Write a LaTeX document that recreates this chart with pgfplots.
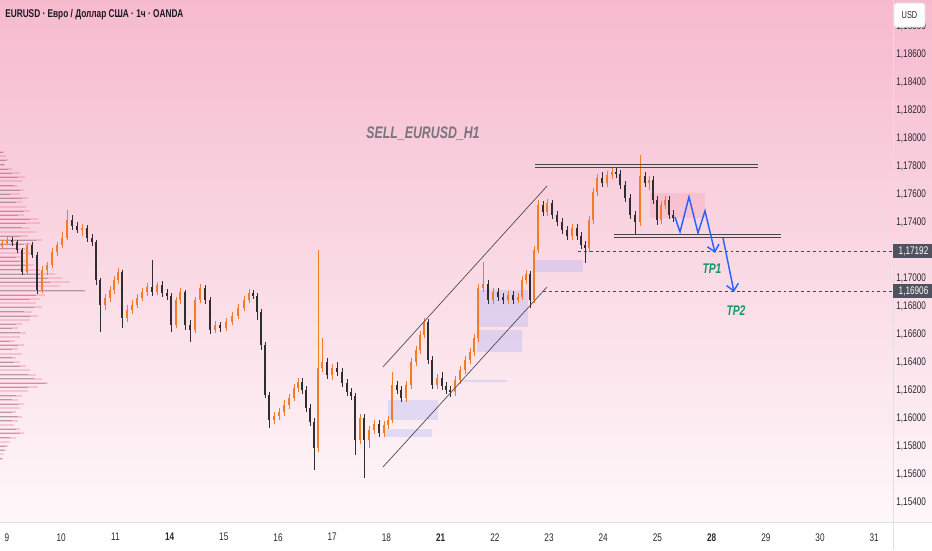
\documentclass[border=0pt]{standalone}
\usepackage{pgfplots}
\pgfplotsset{compat=1.18}
\usepackage{pgfplotstable}
\usetikzlibrary{arrows.meta}
\usepackage{fontspec}
\setmainfont{Liberation Sans}
\newfontfamily\nsf[FakeStretch=0.74]{Liberation Sans}
\definecolor{upc}{RGB}{242,124,38}
\definecolor{dnc}{RGB}{45,45,50}
\definecolor{tpblue}{RGB}{41,98,255}
\definecolor{tpgreen}{RGB}{22,150,108}
\definecolor{lbl}{RGB}{40,40,48}
\definecolor{pbox}{RGB}{80,83,94}
\definecolor{lav}{RGB}{120,140,255}
\definecolor{bgtop}{RGB}{246,186,206}
\definecolor{bgmid}{RGB}{249,213,224}
\definecolor{bgbot}{RGB}{254,248,250}
\definecolor{sep}{RGB}{226,222,225}
\definecolor{lnc}{RGB}{70,70,76}
\definecolor{vpink}{RGB}{238,120,155}
\definecolor{vgray}{RGB}{90,90,95}
\definecolor{pzone}{RGB}{235,80,110}
\definecolor{ttl}{RGB}{122,116,122}
\definecolor{hdr}{RGB}{25,25,35}
\definecolor{usdb}{RGB}{225,222,226}

\pgfplotstableread{
x o h l c
2 1.17229 1.17272 1.17207 1.17250
7 1.17250 1.17300 1.17236 1.17272
12 1.17272 1.17293 1.17229 1.17257
17 1.17257 1.17272 1.17179 1.17200
22 1.17200 1.17215 1.17022 1.17043
27 1.17043 1.17250 1.17029 1.17236
32 1.17236 1.17257 1.17143 1.17165
37 1.17165 1.17186 1.16886 1.16915
42 1.16915 1.17086 1.16893 1.17057
47 1.17057 1.17115 1.17022 1.17093
52 1.17093 1.17215 1.17072 1.17186
57 1.17186 1.17257 1.17157 1.17236
62 1.17236 1.17329 1.17215 1.17286
67 1.17286 1.17486 1.17272 1.17415
72 1.17415 1.17450 1.17343 1.17372
77 1.17372 1.17400 1.17322 1.17343
82 1.17343 1.17386 1.17300 1.17357
87 1.17357 1.17379 1.17257 1.17286
92 1.17286 1.17315 1.17229 1.17257
96 1.17257 1.17272 1.16950 1.16986
100 1.16986 1.17000 1.16615 1.16807
105 1.16807 1.16886 1.16772 1.16857
110 1.16857 1.16943 1.16829 1.16915
114 1.16915 1.17015 1.16886 1.16986
118 1.16986 1.17072 1.16957 1.17043
122 1.17043 1.17057 1.16643 1.16715
127 1.16715 1.16807 1.16686 1.16772
132 1.16772 1.16843 1.16743 1.16807
137 1.16807 1.16886 1.16786 1.16857
142 1.16857 1.16929 1.16836 1.16900
147 1.16900 1.16965 1.16872 1.16936
152 1.16936 1.17129 1.16872 1.16900
157 1.16900 1.16972 1.16879 1.16950
162 1.16950 1.16979 1.16865 1.16893
167 1.16893 1.16922 1.16843 1.16872
171 1.16872 1.16893 1.16615 1.16665
176 1.16665 1.16865 1.16643 1.16843
180 1.16843 1.16929 1.16815 1.16900
185 1.16900 1.16915 1.16629 1.16665
190 1.16665 1.16700 1.16543 1.16629
195 1.16629 1.16865 1.16607 1.16843
200 1.16843 1.16957 1.16822 1.16929
205 1.16929 1.16950 1.16815 1.16843
210 1.16843 1.16865 1.16600 1.16629
215 1.16629 1.16693 1.16607 1.16665
220 1.16665 1.16686 1.16615 1.16643
226 1.16643 1.16715 1.16622 1.16686
232 1.16686 1.16757 1.16665 1.16729
238 1.16729 1.16815 1.16707 1.16786
244 1.16786 1.16872 1.16765 1.16843
249 1.16843 1.16922 1.16822 1.16893
253 1.16893 1.16915 1.16850 1.16872
257 1.16872 1.16893 1.16700 1.16757
261 1.16757 1.16779 1.16486 1.16522
265 1.16522 1.16543 1.16143 1.16165
269 1.16165 1.16186 1.15929 1.15986
274 1.15986 1.16043 1.15957 1.16015
279 1.16015 1.16072 1.15986 1.16043
284 1.16043 1.16129 1.16015 1.16093
289 1.16093 1.16172 1.16065 1.16143
294 1.16143 1.16243 1.16122 1.16215
298 1.16215 1.16286 1.16186 1.16257
302 1.16257 1.16286 1.16172 1.16200
306 1.16200 1.16229 1.16043 1.16072
310 1.16072 1.16100 1.15943 1.15972
314 1.15972 1.16000 1.15629 1.15786
318 1.15786 1.17200 1.15757 1.16357
322 1.16357 1.16572 1.16329 1.16400
327 1.16400 1.16429 1.16279 1.16307
332 1.16307 1.16386 1.16272 1.16357
337 1.16357 1.16400 1.16300 1.16329
342 1.16329 1.16357 1.16222 1.16250
347 1.16250 1.16279 1.16157 1.16186
351 1.16186 1.16215 1.16129 1.16157
355 1.16157 1.16179 1.15736 1.15843
360 1.15843 1.16029 1.15815 1.16000
364 1.16000 1.16029 1.15572 1.15843
369 1.15843 1.15943 1.15786 1.15915
374 1.15915 1.15986 1.15886 1.15957
379 1.15957 1.15986 1.15865 1.15893
384 1.15893 1.15979 1.15865 1.15950
388 1.15950 1.16015 1.15922 1.15986
392 1.15986 1.16329 1.15965 1.16236
397 1.16236 1.16265 1.16172 1.16200
401 1.16200 1.16229 1.16115 1.16143
406 1.16143 1.16265 1.16115 1.16236
411 1.16236 1.16429 1.16207 1.16400
416 1.16400 1.16515 1.16372 1.16486
420 1.16486 1.16622 1.16457 1.16593
424 1.16593 1.16715 1.16572 1.16686
428 1.16686 1.16707 1.16386 1.16415
432 1.16415 1.16443 1.16207 1.16236
437 1.16236 1.16315 1.16207 1.16286
442 1.16286 1.16329 1.16200 1.16229
446 1.16229 1.16257 1.16172 1.16200
450 1.16200 1.16229 1.16150 1.16186
455 1.16186 1.16300 1.16157 1.16272
460 1.16272 1.16372 1.16243 1.16343
465 1.16343 1.16443 1.16315 1.16415
470 1.16415 1.16500 1.16386 1.16472
474 1.16472 1.16600 1.16443 1.16572
478 1.16572 1.16957 1.16543 1.16929
483 1.16929 1.17115 1.16900 1.16957
488 1.16957 1.16986 1.16815 1.16843
493 1.16843 1.16929 1.16815 1.16900
498 1.16900 1.16929 1.16836 1.16865
503 1.16865 1.16893 1.16815 1.16843
508 1.16843 1.16907 1.16815 1.16879
513 1.16879 1.16907 1.16815 1.16843
518 1.16843 1.16893 1.16822 1.16865
522 1.16865 1.17015 1.16843 1.16986
526 1.16986 1.17057 1.16957 1.17029
530 1.17029 1.17050 1.16786 1.16843
534 1.16843 1.17229 1.16822 1.17200
538 1.17200 1.17557 1.17179 1.17522
543 1.17522 1.17550 1.17443 1.17472
547 1.17472 1.17565 1.17443 1.17536
552 1.17536 1.17557 1.17422 1.17450
557 1.17450 1.17479 1.17372 1.17400
562 1.17400 1.17429 1.17315 1.17343
567 1.17343 1.17372 1.17272 1.17300
572 1.17300 1.17386 1.17272 1.17357
577 1.17357 1.17386 1.17272 1.17300
581 1.17300 1.17329 1.17207 1.17236
585 1.17236 1.17265 1.17107 1.17215
589 1.17215 1.17443 1.17186 1.17415
593 1.17415 1.17643 1.17386 1.17615
597 1.17615 1.17743 1.17586 1.17715
602 1.17715 1.17757 1.17650 1.17679
607 1.17679 1.17765 1.17650 1.17736
612 1.17736 1.17786 1.17707 1.17757
616 1.17757 1.17793 1.17715 1.17743
620 1.17743 1.17772 1.17636 1.17665
625 1.17665 1.17693 1.17543 1.17572
630 1.17572 1.17600 1.17422 1.17450
635 1.17450 1.17479 1.17307 1.17400
640 1.17400 1.17879 1.17372 1.17729
645 1.17729 1.17757 1.17650 1.17679
649 1.17679 1.17729 1.17629 1.17700
653 1.17700 1.17729 1.17529 1.17557
657 1.17557 1.17586 1.17379 1.17415
661 1.17415 1.17550 1.17386 1.17522
665 1.17522 1.17586 1.17493 1.17557
669 1.17557 1.17586 1.17422 1.17450
673 1.17450 1.17486 1.17400 1.17429
}\candles

\pgfplotstableread{
p a g
1.1790 4 3
1.1787 6 0
1.1784 8 6
1.1781 5 4
1.1778 12 8
1.1775 20 12
1.1772 25 18
1.1769 22 0
1.1766 18 14
1.1763 24 20
1.1760 20 10
1.1757 28 22
1.1754 22 16
1.1751 26 0
1.1748 30 24
1.1745 24 18
1.1742 38 30
1.1739 40 26
1.1736 30 22
1.1733 36 0
1.1730 28 20
1.1727 42 36
1.1724 32 24
1.1721 26 18
1.1718 30 0
1.1715 22 16
1.1712 28 20
1.1709 34 28
1.1706 40 22
1.1703 55 40
1.1700 62 48
1.1697 70 50
1.1694 60 0
1.1691 86 84
1.1688 45 36
1.1685 40 30
1.1682 36 0
1.1679 42 34
1.1676 32 24
1.1673 38 30
1.1670 30 0
1.1667 22 16
1.1664 18 12
1.1661 26 20
1.1658 20 0
1.1655 15 10
1.1652 24 18
1.1649 18 12
1.1646 22 0
1.1643 16 12
1.1640 20 14
1.1637 26 20
1.1634 30 0
1.1631 36 28
1.1628 42 34
1.1625 48 46
1.1622 38 28
1.1619 28 0
1.1616 22 16
1.1613 18 12
1.1610 24 18
1.1607 20 0
1.1604 16 12
1.1601 22 18
1.1598 18 12
1.1595 14 0
1.1592 20 16
1.1589 24 20
1.1586 16 10
1.1583 10 0
1.1580 8 6
1.1577 6 4
1.1574 4 0
1.1571 3 2
}\vprofile

\pgfplotsset{candle/.style={draw=none, mark=none, forget plot,
  error bars/.cd, y dir=both, y explicit, error mark=none}}

\begin{document}
\begin{tikzpicture}
\useasboundingbox (0,0) rectangle (699pt,412.5pt);
\fill[white] (0,0) rectangle (699pt,412.5pt);
\shade[top color=bgtop, middle color=bgmid, bottom color=bgbot] (0,21pt) rectangle (699pt,412.5pt);
\draw[line width=0.6pt, sep] (0,21pt) -- (699pt,21pt);
\draw[line width=0.6pt, sep] (669.75pt,0) -- (669.75pt,412.5pt);
\begin{axis}[
  at={(0pt,21pt)}, anchor=south west,
  scale only axis, width=669.75pt, height=391.5pt,
  xmin=0, xmax=893, ymin=1.15257, ymax=1.18986,
  axis line style={draw=none},
  major tick length=0pt,
  ytick={1.154,1.156,1.158,1.16,1.162,1.164,1.166,1.168,1.17,1.174,1.176,1.178,1.18,1.182,1.184,1.186,1.188},
  yticklabel pos=right,
  yticklabel style={font=\nsf\fontsize{8.3}{9}\selectfont, text=lbl, anchor=west, xshift=-1pt,
    /pgf/number format/.cd, fixed, fixed zerofill, precision=5, use comma, assume math mode=true},
  xtick={7,61.2,115.4,169.6,223.8,278,332.2,386.4,440.6,494.8,549,603.2,657.4,711.6,765.8,820,874.2},
  xticklabels={9,10,11,\textbf{14},15,16,17,18,\textbf{21},22,23,24,25,\textbf{28},29,30,31},
  xticklabel style={font=\nsf\fontsize{8.3}{9}\selectfont, text=lbl, yshift=-5pt},
]
% volume profile
\addplot[xcomb, line width=1.5pt, draw=vpink, draw opacity=0.32, forget plot] table[x=a, y=p] {\vprofile};
\addplot[xcomb, line width=0.45pt, draw=vgray, draw opacity=0.4, forget plot] table[x=g, y=p] {\vprofile};
% zones
\fill[lav, fill opacity=0.2] (axis cs:388,1.16129) rectangle (axis cs:438,1.15986);
\fill[lav, fill opacity=0.2] (axis cs:385,1.15922) rectangle (axis cs:432,1.15865);
\fill[lav, fill opacity=0.2] (axis cs:477,1.16915) rectangle (axis cs:528,1.16650);
\fill[lav, fill opacity=0.2] (axis cs:477,1.16629) rectangle (axis cs:522,1.16472);
\fill[lav, fill opacity=0.2] (axis cs:460,1.16272) rectangle (axis cs:507,1.16257);
\fill[lav, fill opacity=0.2] (axis cs:535,1.17129) rectangle (axis cs:583,1.17043);
\fill[pzone, fill opacity=0.13] (axis cs:650,1.17607) rectangle (axis cs:705,1.17429);
% wicks
\addplot[candle, error bar style={line width=0.6pt, draw=upc}]
  table[x=x, y expr={\thisrow{c}>=\thisrow{o} ? 0.5*(\thisrow{h}+\thisrow{l}) : nan}, y error expr={0.5*(\thisrow{h}-\thisrow{l})}] {\candles};
\addplot[candle, error bar style={line width=0.6pt, draw=dnc}]
  table[x=x, y expr={\thisrow{c}<\thisrow{o} ? 0.5*(\thisrow{h}+\thisrow{l}) : nan}, y error expr={0.5*(\thisrow{h}-\thisrow{l})}] {\candles};
% bodies
\addplot[candle, error bar style={line width=2.2pt, draw=upc}]
  table[x=x, y expr={\thisrow{c}>=\thisrow{o} ? 0.5*(\thisrow{o}+\thisrow{c}) : nan}, y error expr={0.5*abs(\thisrow{c}-\thisrow{o})}] {\candles};
\addplot[candle, error bar style={line width=2.2pt, draw=dnc}]
  table[x=x, y expr={\thisrow{c}<\thisrow{o} ? 0.5*(\thisrow{o}+\thisrow{c}) : nan}, y error expr={0.5*abs(\thisrow{c}-\thisrow{o})}] {\candles};
% channel
\addplot[line width=0.5pt, lnc, forget plot] coordinates {(383,1.16365) (547,1.17657)};
\addplot[line width=0.5pt, lnc, forget plot] coordinates {(383,1.15650) (547,1.16936)};
% resistance / support
\addplot[line width=0.55pt, lnc, forget plot] coordinates {(535,1.17815) (758,1.17815)};
\addplot[line width=0.55pt, lnc, forget plot] coordinates {(535,1.17793) (758,1.17793)};
\addplot[line width=0.55pt, lnc, forget plot] coordinates {(614,1.17315) (781,1.17315)};
\addplot[line width=0.55pt, lnc, forget plot] coordinates {(614,1.17293) (781,1.17293)};
% targets
\addplot[line width=0.55pt, lnc, dash pattern=on 2.2pt off 2.2pt, forget plot] coordinates {(578,1.17192) (893,1.17192)};
\addplot[line width=0.55pt, lnc, dash pattern=on 2.2pt off 2.2pt, forget plot] coordinates {(543,1.16906) (893,1.16906)};
% arrows
\addplot[line width=1.1pt, tpblue, line join=miter, -{Straight Barb[length=5pt,width=9pt,line width=1.1pt]}, forget plot]
  coordinates {(675,1.17436) (680,1.17329) (689,1.17579) (698,1.17322) (705,1.17479) (715,1.17179)};
\addplot[line width=1.1pt, tpblue, -{Straight Barb[length=5pt,width=9pt,line width=1.1pt]}, forget plot]
  coordinates {(723,1.17286) (734,1.16900)};
% texts
\node[font=\nsf\fontsize{12.5}{14}\selectfont\bfseries\itshape, text=ttl] at (axis cs:423,1.18029) {SELL\_EURUSD\_H1};
\node[font=\nsf\fontsize{10.5}{12}\selectfont\bfseries\itshape, text=tpgreen] at (axis cs:712,1.17064) {TP1};
\node[font=\nsf\fontsize{10.5}{12}\selectfont\bfseries\itshape, text=tpgreen] at (axis cs:736,1.16764) {TP2};
\end{axis}
% price boxes
\fill[pbox] (669.75pt,219pt) rectangle (699pt,229.5pt);
\node[font=\nsf\fontsize{8.3}{9}\selectfont, text=white, anchor=west] at (670.5pt,224.25pt) {1,17192};
\fill[pbox] (669.75pt,189pt) rectangle (699pt,199.5pt);
\node[font=\nsf\fontsize{8.3}{9}\selectfont, text=white, anchor=west] at (670.5pt,194.25pt) {1,16906};
% USD box
\filldraw[fill=white, draw=usdb, rounded corners=2pt, line width=0.5pt] (670.5pt,392.25pt) rectangle (693.75pt,410.25pt);
\node[font=\nsf\fontsize{7.5}{8}\selectfont, text=lbl] at (682.1pt,401.25pt) {USD};
% header
\node[font=\nsf\fontsize{8.4}{9}\selectfont\bfseries, text=hdr, anchor=west, inner sep=0pt] at (3.75pt,401.25pt) {EURUSD · Евро / Доллар США · 1ч · OANDA};
\end{tikzpicture}
\end{document}
